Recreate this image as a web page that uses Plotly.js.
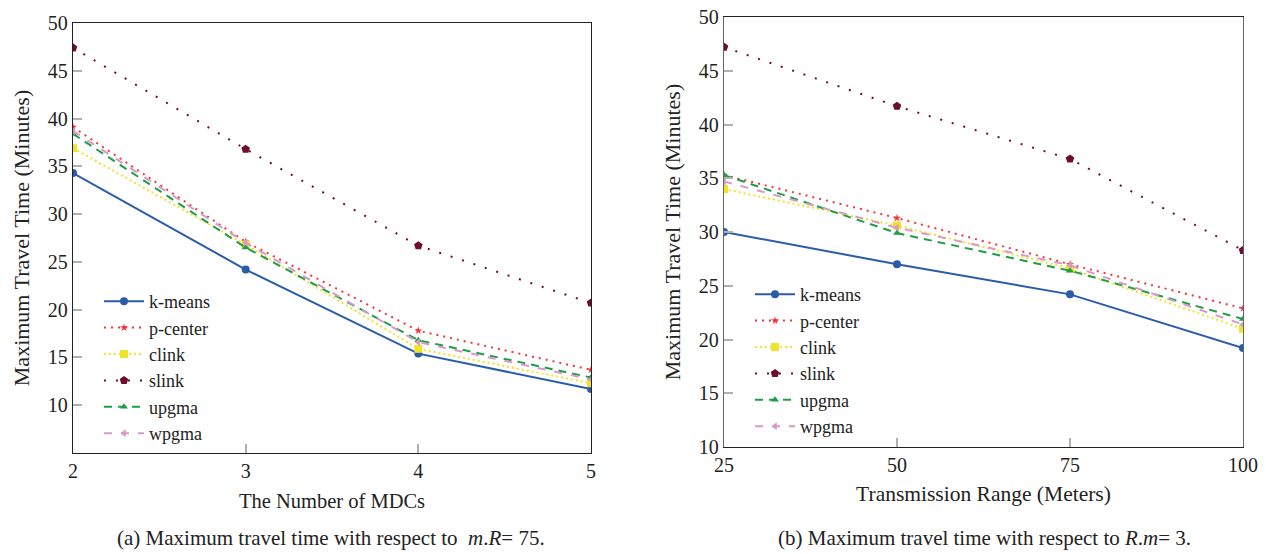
<!DOCTYPE html>
<html>
<head>
<meta charset="utf-8">
<script src="https://cdn.plot.ly/plotly-3.0.1.min.js"></script>
<style>html,body{margin:0;padding:0;background:#fff;}#chart{width:1266px;height:554px;}</style>
</head>
<body>
<div id="chart"></div>
<script>
// ---- Data ----
const seriesNames = ["k-means", "p-center", "clink", "slink", "upgma", "wpgma"];

// (a) vs number of MDCs
const mdcs = [2, 3, 4, 5];
const aKmeans = [34.3, 24.2, 15.4, 11.7];
const aPcenter = [39.1, 27.1, 17.8, 13.7];
const aClink = [36.9, 26.8, 15.9, 12.3];
const aSlink = [47.4, 36.8, 26.7, 20.7];
const aUpgma = [38.4, 26.5, 16.8, 12.9];
const aWpgma = [38.7, 27.0, 16.6, 12.7];

// (b) vs transmission range
const ranges = [25, 50, 75, 100];
const bKmeans = [30.0, 27.0, 24.2, 19.2];
const bPcenter = [35.3, 31.3, 27.0, 22.9];
const bClink = [34.0, 30.6, 26.6, 21.0];
const bSlink = [47.2, 41.7, 36.8, 28.3];
const bUpgma = [35.3, 29.9, 26.4, 21.9];
const bWpgma = [34.7, 30.4, 26.9, 21.4];

const yTicks = [10, 15, 20, 25, 30, 35, 40, 45, 50];

// ---- Styles ----
const styles = [
  {color: "#2a5caa", dash: "solid", width: 2, symbol: "circle", size: 8},
  {color: "#f5353a", dash: "2px,5px", width: 2, symbol: "star", size: 6},
  {color: "#f0e32a", dash: "2px,3px", width: 2, symbol: "square", size: 8},
  {color: "#6e0b2e", dash: "2px,10px", width: 2, symbol: "pentagon", size: 9},
  {color: "#1f9e46", dash: "8px,6px", width: 2, symbol: "triangle-up", size: 7},
  {color: "#d79ac8", dash: "8px,9px", width: 2, symbol: "triangle-left", size: 7}
];

const aData = [aKmeans, aPcenter, aClink, aSlink, aUpgma, aWpgma];
const bData = [bKmeans, bPcenter, bClink, bSlink, bUpgma, bWpgma];

const traces = [];
seriesNames.forEach((n, i) => {
  const s = styles[i];
  traces.push({
    x: mdcs, y: aData[i], name: n, type: "scatter", mode: "lines+markers",
    xaxis: "x", yaxis: "y", legend: "legend",
    line: {color: s.color, dash: s.dash, width: s.width},
    marker: {color: s.color, symbol: s.symbol, size: s.size}
  });
});
seriesNames.forEach((n, i) => {
  const s = styles[i];
  traces.push({
    x: ranges, y: bData[i], name: n, type: "scatter", mode: "lines+markers",
    xaxis: "x2", yaxis: "y2", legend: "legend2",
    line: {color: s.color, dash: s.dash, width: s.width},
    marker: {color: s.color, symbol: s.symbol, size: s.size}
  });
});

const W = 1266, H = 554;
const FAM = "'Liberation Serif', 'DejaVu Serif', serif";
const font = {family: FAM, size: 19, color: "#222"};

function axisCommon() {
  return {
    showline: true, linecolor: "#222", linewidth: 1.3, mirror: true,
    ticks: "inside", ticklen: 9, tickcolor: "#b0b0b0", tickwidth: 2,
    showgrid: false, zeroline: false, fixedrange: true,
    tickfont: {family: FAM, size: 20, color: "#222"}
  };
}

const layout = {
  width: W, height: H,
  margin: {l: 0, r: 0, t: 0, b: 0},
  paper_bgcolor: "#fff", plot_bgcolor: "#fff",
  font: font,
  showlegend: true,
  xaxis: Object.assign(axisCommon(), {
    domain: [73 / W, 591 / W], range: [2, 5], tickvals: mdcs,
    anchor: "y",
    title: {text: "The Number of MDCs", standoff: 12, font: {family: FAM, size: 20.5, color: "#222"}}
  }),
  yaxis: Object.assign(axisCommon(), {
    domain: [1 - 453 / H, 1 - 23 / H], range: [5, 50], tickvals: yTicks,
    anchor: "x",
    title: {text: "Maximum Travel Time (Minutes)", standoff: 12, font: {family: FAM, size: 22, color: "#222"}}
  }),
  xaxis2: Object.assign(axisCommon(), {
    domain: [724 / W, 1243 / W], range: [25, 100], tickvals: ranges,
    anchor: "y2",
    title: {text: "Transmission Range (Meters)", standoff: 10, font: {family: FAM, size: 21.5, color: "#222"}}
  }),
  yaxis2: Object.assign(axisCommon(), {
    domain: [1 - 447 / H, 1 - 17 / H], range: [10, 50], tickvals: yTicks,
    anchor: "x2",
    linecolor: "#666",
    title: {text: "Maximum Travel Time (Minutes)", standoff: 12, font: {family: FAM, size: 22, color: "#222"}}
  }),
  legend: {
    x: 99 / W, y: 1 - 283 / H, xanchor: "left", yanchor: "top",
    bgcolor: "rgba(255,255,255,0)", borderwidth: 0,
    font: {family: FAM, size: 18, color: "#222"},
    tracegroupgap: 0, itemwidth: 40
  },
  legend2: {
    x: 750 / W, y: 1 - 276 / H, xanchor: "left", yanchor: "top",
    bgcolor: "rgba(255,255,255,0)", borderwidth: 0,
    font: {family: FAM, size: 18, color: "#222"},
    tracegroupgap: 0, itemwidth: 40
  },
  annotations: [
    {xref: "paper", yref: "paper", x: 331 / W, y: 1 - 552 / H, xanchor: "center", yanchor: "bottom",
     showarrow: false, text: "(a) Maximum travel time with respect to  <i>m</i>.<i>R</i>= 75.",
     font: {family: FAM, size: 21, color: "#222"}},
    {xref: "paper", yref: "paper", x: 985 / W, y: 1 - 552 / H, xanchor: "center", yanchor: "bottom",
     showarrow: false, text: "(b) Maximum travel time with respect to <i>R</i>.<i>m</i>= 3.",
     font: {family: FAM, size: 21, color: "#222"}}
  ]
};

Plotly.newPlot("chart", traces, layout, {displayModeBar: false, staticPlot: true});
</script>
</body>
</html>
